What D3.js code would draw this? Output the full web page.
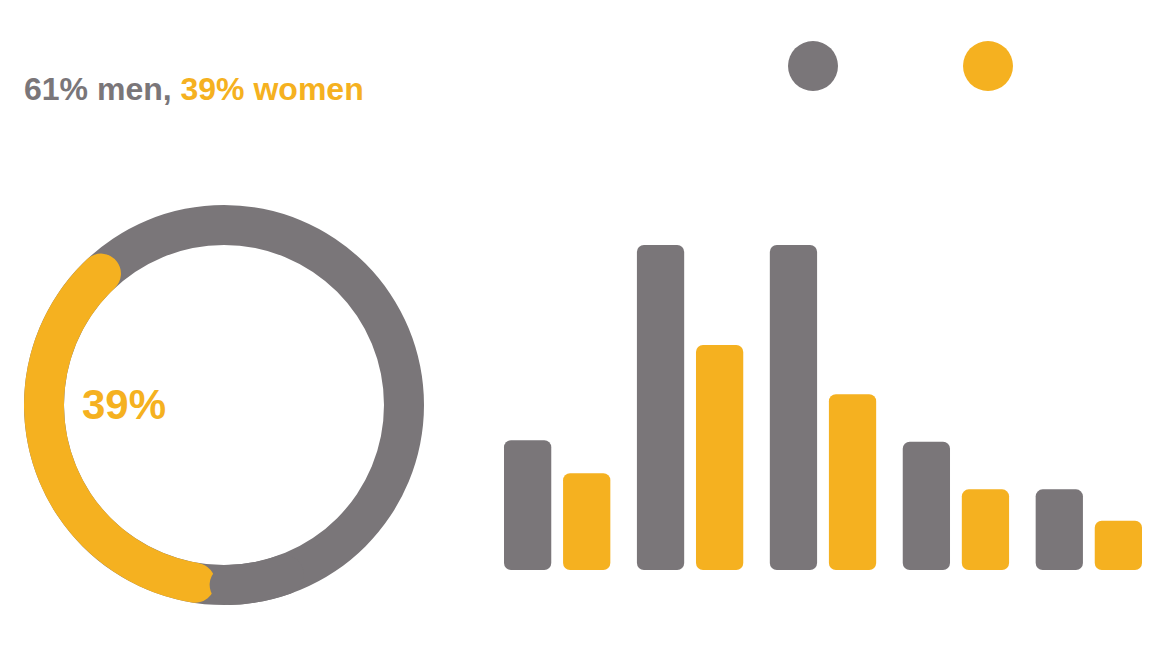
<!DOCTYPE html>
<html>
<head>
<meta charset="utf-8">
<style>
  body { margin: 0; background: #fff; font-family: "Liberation Sans", Arial, sans-serif; }
</style>
<script src="https://d3js.org/d3.v7.min.js"></script>
</head>
<body>
<script>
var ageGroups = ["18-24", "25-34", "35-44", "45-54", "55+"];
var menValues = [161, 403, 403, 159, 100];
var womenValues = [120, 279, 218, 100, 61];
var sharePct = {men: 61, women: 39};
var GRAY = "#7a7679", GOLD = "#f5b120";

var svg = d3.select("body").append("svg").attr("width", 1152).attr("height", 660);

// title
svg.append("text").attr("x", 24).attr("y", 58).attr("fill", "#fff")
    .style("font-size", "32px").style("font-weight", "bold").text("Gender is balanced:");
var t2 = svg.append("text").attr("x", 24).attr("y", 100)
    .style("font-size", "32px").style("font-weight", "bold");
t2.append("tspan").attr("fill", GRAY).text(sharePct.men + "% men, ");
t2.append("tspan").attr("fill", GOLD).text(sharePct.women + "% women");

// legend
[["Men", GRAY, 813], ["Women", GOLD, 988]].forEach(function (d) {
    svg.append("circle").attr("cx", d[2]).attr("cy", 66).attr("r", 25).attr("fill", d[1]);
    svg.append("text").attr("x", d[2] + 44).attr("y", 76).attr("fill", "#fff")
        .style("font-size", "26px").text(d[0]);
});

// donut
var cx = 224, cy = 405, R = 200, th = 40;
var g = svg.append("g").attr("transform", "translate(" + cx + "," + cy + ")");
var arc = d3.arc().innerRadius(R - th).outerRadius(R).cornerRadius(th / 2);
var startW = Math.PI + 0.05;
var endW = startW + 2 * Math.PI * sharePct.women / 100;
g.append("path").attr("d", arc({startAngle: 0, endAngle: 2 * Math.PI})).attr("fill", GRAY);
g.append("path").attr("d", arc({startAngle: startW, endAngle: endW})).attr("fill", GOLD);
g.append("path").attr("d", arc({startAngle: startW - 0.5, endAngle: startW + 0.03})).attr("fill", GRAY);
g.append("text").attr("x", -142).attr("y", 14).attr("fill", GOLD)
    .style("font-size", "42px").style("font-weight", "bold").text(sharePct.women + "%");
g.append("text").attr("x", 46).attr("y", 14).attr("fill", "#fff")
    .style("font-size", "42px").style("font-weight", "bold").text(sharePct.men + "%");

// bars
var base = 570;
var x0 = d3.scaleBand().domain(ageGroups).range([504, 1142]).paddingInner(0.2).paddingOuter(0);
var x1 = d3.scaleBand().domain(["men", "women"]).range([0, x0.bandwidth()]).paddingInner(0.2);
var y = d3.scaleLinear().domain([0, 403]).range([base, 245]);
var bars = svg.append("g");
ageGroups.forEach(function (a, i) {
    [["men", menValues[i], GRAY], ["women", womenValues[i], GOLD]].forEach(function (s) {
        var bx = x0(a) + x1(s[0]);
        bars.append("rect").attr("x", bx).attr("y", y(s[1])).attr("width", x1.bandwidth())
            .attr("height", base - y(s[1])).attr("rx", 7).attr("fill", s[2]);
        bars.append("text").attr("x", bx + x1.bandwidth() / 2).attr("y", y(s[1]) - 8)
            .attr("text-anchor", "middle").attr("fill", "#fff").style("font-size", "18px")
            .style("font-weight", "bold").text(s[1]);
    });
    bars.append("text").attr("x", x0(a) + x0.bandwidth() / 2).attr("y", 628)
        .attr("text-anchor", "middle").attr("fill", "#fff").style("font-size", "20px")
        .style("font-weight", "bold").text(a);
});
</script>
</body>
</html>
